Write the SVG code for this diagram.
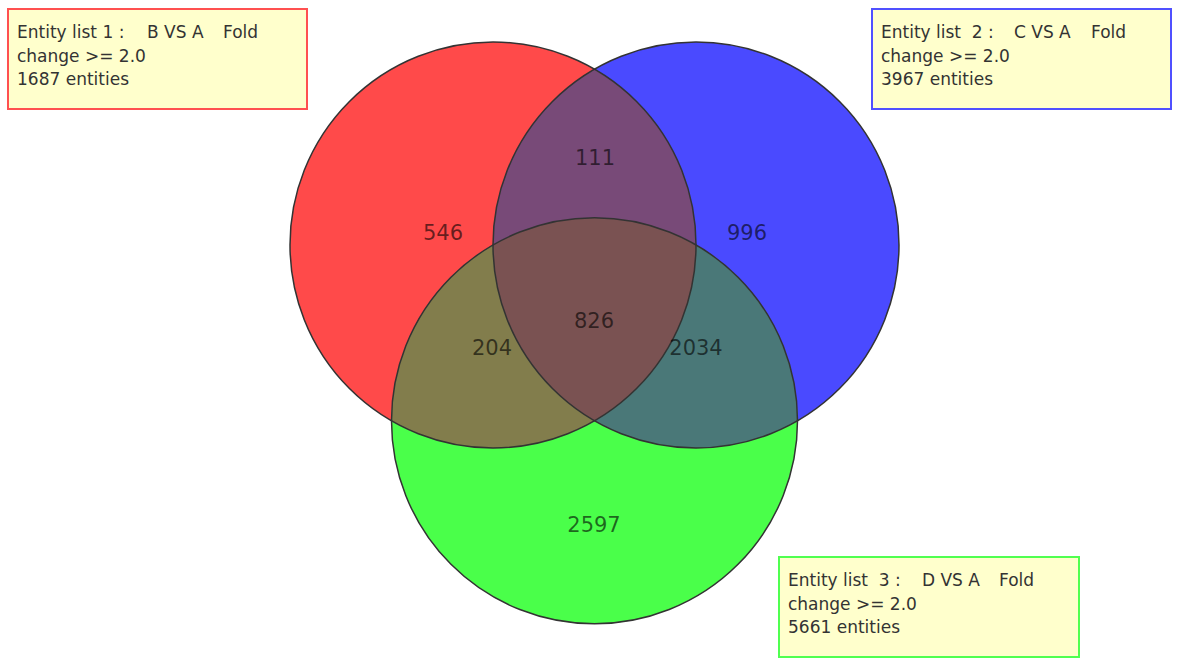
<svg xmlns="http://www.w3.org/2000/svg" width="1181" height="666" viewBox="0 0 1181 666">
<style>
.lbl{font-family:"DejaVu Sans",Verdana,sans-serif;font-size:17px;fill:#333}
.num{font-family:"DejaVu Sans",Verdana,sans-serif;font-size:21px;fill:#000;fill-opacity:0.6;text-anchor:middle}
.ring{fill:none;stroke:#333;stroke-width:1.5}
.box{fill:#ffffcc;stroke-width:2}
</style>
<rect width="1181" height="666" fill="#fff"/>
<g id="venn">
  <circle id="set1" cx="493" cy="245" r="203" fill="#ff4a4a"/>
  <circle id="set2" cx="696" cy="245" r="203" fill="#4a4aff"/>
  <circle id="set3" cx="594.5" cy="420.8" r="203" fill="#4aff4a"/>
  <path id="r12" d="M493,245 A203,203 0 0 1 594.5,69.2 A203,203 0 0 1 696,245 A203,203 0 0 0 493,245 Z" fill="#784a78"/>
  <path id="r13" d="M493,245 A203,203 0 0 0 391.5,420.8 A203,203 0 0 0 594.5,420.8 A203,203 0 0 1 493,245 Z" fill="#827d4c"/>
  <path id="r23" d="M696,245 A203,203 0 0 1 797.5,420.8 A203,203 0 0 1 594.5,420.8 A203,203 0 0 0 696,245 Z" fill="#4a7878"/>
  <path id="r123" d="M493,245 A203,203 0 0 1 696,245 A203,203 0 0 1 594.5,420.8 A203,203 0 0 1 493,245 Z" fill="#7a5252"/>
  <circle class="ring" cx="493" cy="245" r="203"/>
  <circle class="ring" cx="696" cy="245" r="203"/>
  <circle class="ring" cx="594.5" cy="420.8" r="203"/>
</g>
<g id="counts">
  <text class="num" x="443" y="240">546</text>
  <text class="num" x="595" y="165">111</text>
  <text class="num" x="747" y="240">996</text>
  <text class="num" x="594" y="328">826</text>
  <text class="num" x="492" y="355">204</text>
  <text class="num" x="696" y="355">2034</text>
  <text class="num" x="594" y="532">2597</text>
</g>
<g id="legend1">
  <rect class="box" x="8" y="9" width="299" height="100" stroke="#ff5050"/>
  <text class="lbl" y="38"><tspan x="17">Entity list 1 :</tspan><tspan x="147">B VS A</tspan><tspan x="223">Fold</tspan></text>
  <text class="lbl" x="17" y="62">change &gt;= 2.0</text>
  <text class="lbl" x="17" y="85">1687 entities</text>
</g>
<g id="legend2">
  <rect class="box" x="872" y="9" width="299" height="100" stroke="#5050ff"/>
  <text class="lbl" y="38" xml:space="preserve"><tspan x="881">Entity list  2 :</tspan><tspan x="1014">C VS A</tspan><tspan x="1091">Fold</tspan></text>
  <text class="lbl" x="881" y="62">change &gt;= 2.0</text>
  <text class="lbl" x="881" y="85">3967 entities</text>
</g>
<g id="legend3">
  <rect class="box" x="779" y="557" width="300" height="100" stroke="#50ff50"/>
  <text class="lbl" y="586" xml:space="preserve"><tspan x="788">Entity list  3 :</tspan><tspan x="922">D VS A</tspan><tspan x="999">Fold</tspan></text>
  <text class="lbl" x="788" y="610">change &gt;= 2.0</text>
  <text class="lbl" x="788" y="633">5661 entities</text>
</g>
</svg>
